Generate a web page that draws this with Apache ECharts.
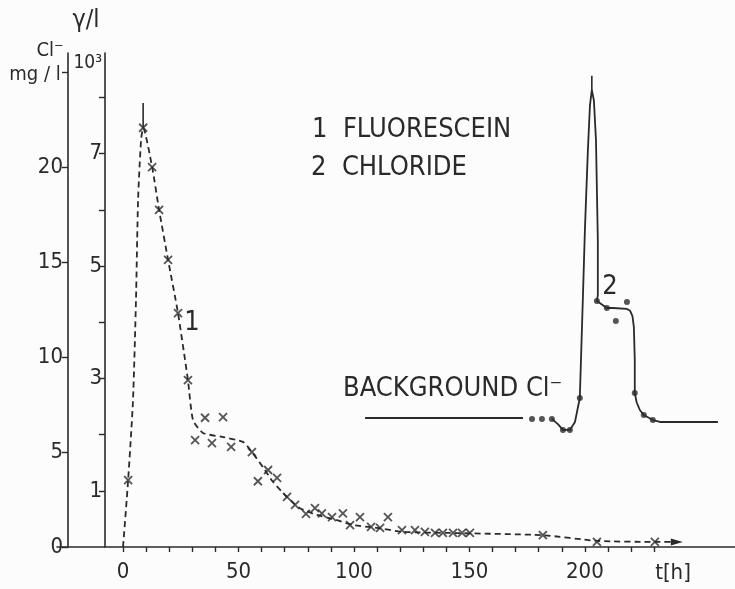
<!DOCTYPE html>
<html>
<head>
<meta charset="utf-8">
<script src="https://cdn.jsdelivr.net/npm/echarts@6/dist/echarts.min.js"></script>
<style>
  html, body { margin: 0; padding: 0; background: #fcfcfc; }
  #chart { width: 735px; height: 589px; }
</style>
</head>
<body>
<div id="chart"></div>
<script>
// Time axis (hours)
const tickHours = [0, 10, 20, 30, 40, 50, 60, 70, 80, 90, 100, 110, 120, 130, 140, 150, 160, 170, 180, 190, 200, 210, 220, 230];
const labelHours = [0, 50, 100, 150, 200];

// Chloride axis (mg/l) and fluorescein axis (10^3 γ/l)
const clTicks = [0, 5, 10, 15, 20, 25];
const clLabels = [0, 5, 10, 15, 20];
const fluoTicks = [1, 2, 3, 4, 5, 6, 7, 8];
const fluoLabels = [1, 3, 5, 7];

// 1 FLUORESCEIN: measured samples (crosses)
const fluoTime = [2.2, 8.7, 12.6, 15.6, 19.5, 23.8, 28.1, 31.2, 35.5, 38.5, 43.3, 46.8, 55.8, 58.4, 62.8, 66.7,
  71.0, 74.5, 79.2, 83.1, 86.1, 90.5, 95.2, 98.3, 102.6, 107.4, 111.3, 114.7, 120.8, 126.4, 130.7, 135.1,
  138.5, 142.9, 146.8, 150.2, 181.8, 205.2, 230.3];
const fluoConc = [1.19, 7.46, 6.76, 6.00, 5.11, 4.16, 2.97, 1.90, 2.30, 1.85, 2.31, 1.78, 1.69, 1.17, 1.37, 1.23,
  0.89, 0.75, 0.59, 0.69, 0.60, 0.53, 0.60, 0.39, 0.53, 0.36, 0.34, 0.53, 0.30, 0.30, 0.27, 0.25,
  0.25, 0.25, 0.25, 0.25, 0.21, 0.09, 0.09];

// 1 FLUORESCEIN: fitted breakthrough curve (dashed)
const fluoCurveTime = [0, 2.2, 4.3, 5.6, 6.5, 7.8, 8.7, 12.6, 15.6, 19.5, 23.8, 28.1, 30.3, 34.6, 42.9, 51.9,
  55.8, 60.6, 64.9, 71.0, 76.6, 84.0, 92.6, 99.6, 110.0, 121.2, 141.6, 181.8, 205.2, 230.3, 239.8];
const fluoCurveConc = [0, 1.19, 2.6, 4.39, 6.17, 7.24, 7.46, 6.76, 6.00, 5.11, 4.16, 2.97, 2.26, 2.03, 1.96, 1.87,
  1.69, 1.42, 1.16, 0.89, 0.69, 0.57, 0.48, 0.39, 0.34, 0.27, 0.25, 0.21, 0.11, 0.09, 0.09];

// Peak marker strokes
const fluoPeakTime = [8.7, 8.7];
const fluoPeakConc = [7.46, 7.9];
const clPeakTime = [203.0, 203.0];
const clPeakConc = [24.05, 24.8];

// Chloride background level
const bgTime = [104.8, 173.2];
const bgConc = [6.79, 6.79];

// 2 CHLORIDE: measured samples (dots)
const clDotTime = [177.1, 181.4, 185.7, 190.5, 193.5, 197.8, 205.2, 209.5, 213.4, 218.2, 221.6, 225.5, 229.4];
const clDotConc = [6.74, 6.74, 6.74, 6.16, 6.16, 7.84, 12.95, 12.58, 11.89, 12.89, 8.10, 6.95, 6.68];

// 2 CHLORIDE: drawn curve
const clCurveTime = [185.7, 188.3, 190.5, 193.5, 195.7, 197.8, 199.1, 200.0, 201.3, 202.2, 203.0, 203.9, 204.8,
  205.6, 205.6, 205.2, 209.5, 212.1, 218.2, 219.6, 220.6, 221.2, 221.6, 221.6, 222.4, 223.8, 225.5, 229.4, 232.5, 257.6];
const clCurveConc = [6.74, 6.47, 6.16, 6.16, 6.58, 7.84, 13.0, 16.68, 20.9, 23.26, 24.05, 23.5, 21.4,
  16.16, 13.26, 12.95, 12.58, 12.58, 12.53, 12.43, 12.15, 11.58, 9.84, 8.10, 7.62, 7.21, 6.95, 6.68, 6.58, 6.58];

const ink = '#2a2a2a';
const digitFont = "'Liberation Sans Narrow', 'DejaVu Sans Condensed', sans-serif";
const wordFont = "'DejaVu Sans Condensed', 'DejaVu Sans', sans-serif";

const zip = (xs, ys) => xs.map((x, i) => [x, ys[i]]);

const fluoCurveData = zip(fluoCurveTime, fluoCurveConc);
const last = fluoCurveData.length - 1;
fluoCurveData[last] = {
  value: fluoCurveData[last],
  symbol: 'triangle', symbolSize: [7, 12], symbolRotate: -90,
  itemStyle: { color: ink }
};

const crossSymbol = 'path://M0,0L10,10M10,0L0,10';

const chart = echarts.init(document.getElementById('chart'), null, { renderer: 'canvas' });

const label = (text, x, y, size, align, font) => ({
  type: 'text', x: x, y: y,
  style: { text: text, fill: ink, font: size + 'px ' + (font || wordFont), textAlign: align || 'left', textVerticalAlign: 'middle' }
});

chart.setOption({
  animation: false,
  backgroundColor: '#fcfcfc',
  grid: { left: 57, right: 0, top: 53, bottom: 42, containLabel: false },
  xAxis: {
    type: 'value', min: -28.6, max: 265,
    axisLine: { show: true, onZero: false, lineStyle: { color: ink, width: 1.6 } },
    axisTick: { show: true, customValues: tickHours, length: 5, lineStyle: { color: ink, width: 1.4 } },
    axisLabel: { show: true, customValues: labelHours, margin: 14, color: ink, fontSize: 22, fontFamily: digitFont },
    splitLine: { show: false }
  },
  yAxis: [
    {
      type: 'value', position: 'left', offset: -11, min: 0, max: 26,
      axisLine: { show: true, onZero: false, lineStyle: { color: ink, width: 1.6 } },
      axisTick: { show: true, customValues: clTicks, length: 6, lineStyle: { color: ink, width: 1.4 } },
      axisLabel: { show: true, customValues: clLabels, margin: 5, color: ink, fontSize: 22, fontFamily: digitFont },
      splitLine: { show: false }
    },
    {
      type: 'value', position: 'left', offset: -48, min: 0, max: 8.79,
      axisLine: { show: true, onZero: false, lineStyle: { color: ink, width: 1.6 } },
      axisTick: { show: true, customValues: fluoTicks, length: 6, lineStyle: { color: ink, width: 1.4 } },
      axisLabel: { show: true, customValues: fluoLabels, margin: 3, color: ink, fontSize: 22, fontFamily: digitFont },
      splitLine: { show: false }
    }
  ],
  series: [
    {
      name: 'FLUORESCEIN curve', type: 'line', yAxisIndex: 1, clip: false,
      data: fluoCurveData, symbol: 'none', showSymbol: true, smooth: 0.2,
      lineStyle: { color: ink, width: 1.8, type: [6, 4] }, z: 3
    },
    {
      name: 'FLUORESCEIN samples', type: 'scatter', yAxisIndex: 1,
      data: zip(fluoTime, fluoConc), symbol: crossSymbol, symbolSize: 8,
      itemStyle: { color: 'rgba(0,0,0,0)', borderColor: ink, borderWidth: 1.8 }, z: 4
    },
    {
      name: 'FLUORESCEIN peak', type: 'line', yAxisIndex: 1,
      data: zip(fluoPeakTime, fluoPeakConc), symbol: 'none',
      lineStyle: { color: ink, width: 1.6 }
    },
    {
      name: 'BACKGROUND', type: 'line', yAxisIndex: 0,
      data: zip(bgTime, bgConc), symbol: 'none',
      lineStyle: { color: ink, width: 1.8 }
    },
    {
      name: 'CHLORIDE curve', type: 'line', yAxisIndex: 0, clip: false,
      data: zip(clCurveTime, clCurveConc), symbol: 'none', smooth: false,
      lineStyle: { color: ink, width: 1.8, join: 'round' }
    },
    {
      name: 'CHLORIDE peak', type: 'line', yAxisIndex: 0,
      data: zip(clPeakTime, clPeakConc), symbol: 'none',
      lineStyle: { color: ink, width: 1.6 }
    },
    {
      name: 'CHLORIDE samples', type: 'scatter', yAxisIndex: 0,
      data: zip(clDotTime, clDotConc), symbol: 'circle', symbolSize: 6,
      itemStyle: { color: ink }, z: 4
    }
  ],
  graphic: [
    label('γ/l', 86, 20, 25, 'center'),
    label('Cl⁻', 50, 51, 20, 'center'),
    label('mg / l', 35, 75, 20, 'center'),
    label('10³', 102, 63, 19, 'right', digitFont),
    label('1  FLUORESCEIN', 312, 130, 27),
    label('2  CHLORIDE', 311, 168, 27),
    label('BACKGROUND Cl⁻', 343, 389, 27),
    label('1', 192, 323, 27, 'center'),
    label('2', 610, 287, 27, 'center'),
    label('t[h]', 673, 573, 22, 'center', digitFont)
  ]
});
</script>
</body>
</html>
